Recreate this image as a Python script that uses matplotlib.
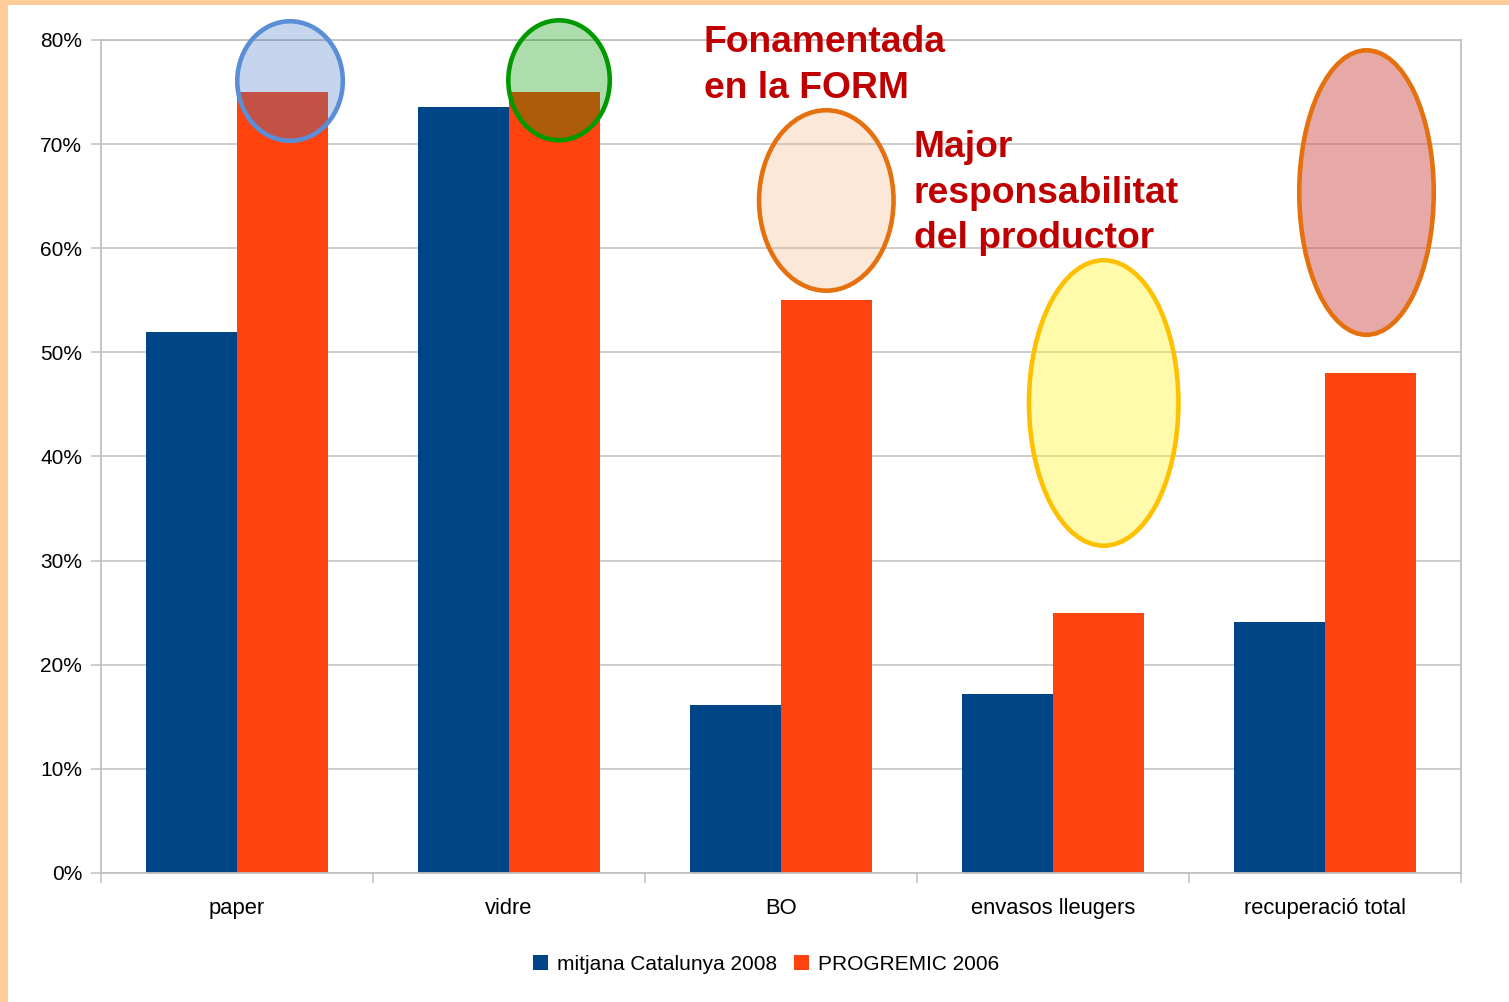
import matplotlib
matplotlib.use("Agg")
import matplotlib.pyplot as plt
from matplotlib.patches import Ellipse, Rectangle, Patch
import numpy as np

plt.rcParams['font.family'] = ['Liberation Sans', 'DejaVu Sans']

categories = ["paper", "vidre", "BO", "envasos lleugers", "recuperació total"]
catalunya_2008 = [52.0, 73.6, 16.1, 17.2, 24.1]
progremic_2006 = [75.0, 75.0, 55.0, 25.0, 48.0]
series_labels = ["mitjana Catalunya 2008", "PROGREMIC 2006"]
y_ticks = [0, 10, 20, 30, 40, 50, 60, 70, 80]
y_tick_labels = [f"{v}%" for v in y_ticks]
note1 = "Fonamentada\nen la FORM"
note2 = "Major\nresponsabilitat\ndel productor"

BLUE = "#004586"
ORANGE = "#ff420e"
GRID = "#c0c0c0"
RED = "#c00000"

W, H = 1509, 1002
fig = plt.figure(figsize=(W / 100, H / 100), dpi=100)
fig.patch.set_facecolor("white")

# orange frame strips
fig.patches.append(Rectangle((0, 0), 8 / W, 1, transform=fig.transFigure,
                             facecolor="#ffcc99", edgecolor="none", zorder=0))
fig.patches.append(Rectangle((0, 1 - 5 / H), 1, 5 / H, transform=fig.transFigure,
                             facecolor="#ffcc99", edgecolor="none", zorder=0))

ax = fig.add_axes([101 / W, 1 - 873 / H, (1461 - 101) / W, (873 - 40) / H])
x = np.arange(len(categories))
bw = 0.335
ax.bar(x - bw / 2, catalunya_2008, bw, color=BLUE, zorder=2)
ax.bar(x + bw / 2, progremic_2006, bw, color=ORANGE, zorder=2)

ax.set_xlim(-0.5, len(categories) - 0.5)
ax.set_ylim(0, 80)
ax.set_yticks(y_ticks)
ax.set_yticklabels(y_tick_labels)
ax.yaxis.grid(True, color=GRID, linewidth=1.1, zorder=0)
ax.set_axisbelow(True)

ax.set_xticks(np.arange(len(categories) + 1) - 0.5)
ax.set_xticklabels([])
ax.set_xticks(x, minor=True)
ax.set_xticklabels(categories, minor=True)
ax.tick_params(axis='x', which='minor', length=0, pad=18, labelsize=15.8)
ax.tick_params(axis='x', which='major', length=7.5, width=1.1, color=GRID)
ax.tick_params(axis='y', length=7.5, width=1.1, color=GRID, pad=6, labelsize=15)
for s in ax.spines.values():
    s.set_color(GRID)
    s.set_linewidth(1.3)

# ellipses highlighting categories
ellipses = [
    ((0.195, 76.06), 0.388, 11.48, "#3e76c6", 0.30, "#5a8ed6"),
    ((1.184, 76.13), 0.373, 11.52, "#009800", 0.32, "#009a00"),
    ((2.1665, 64.59), 0.4945, 17.33, "#f8b680", 0.30, "#e4700e"),
    ((3.1864, 45.14), 0.5496, 27.42, "#fff60c", 0.35, "#ffc000"),
    ((4.1526, 65.35), 0.4945, 27.32, "#d15551", 0.50, "#e4700e"),
]
for (c, w, h, fc, a, ec) in ellipses:
    ax.add_patch(Ellipse(c, w, h, facecolor=matplotlib.colors.to_rgba(fc, a),
                         edgecolor=ec, linewidth=3.3, zorder=3, clip_on=False))

fig.text(704 / W, 1 - 25 / H, note1, color=RED, fontsize=26.8, fontweight='bold',
         va='top', ha='left', linespacing=1.39)
fig.text(914 / W, 1 - 130 / H, note2, color=RED, fontsize=26.8, fontweight='bold',
         va='top', ha='left', linespacing=1.39)

handles = [Patch(facecolor=BLUE, edgecolor='none'), Patch(facecolor=ORANGE, edgecolor='none')]
fig.legend(handles, series_labels, loc='center', bbox_to_anchor=(766 / W, 1 - 964 / H),
           ncol=2, frameon=False, fontsize=15, handlelength=0.75, handleheight=0.75,
           handletextpad=0.42, columnspacing=0.8)

fig.savefig("out.png", dpi=100, facecolor="white")
